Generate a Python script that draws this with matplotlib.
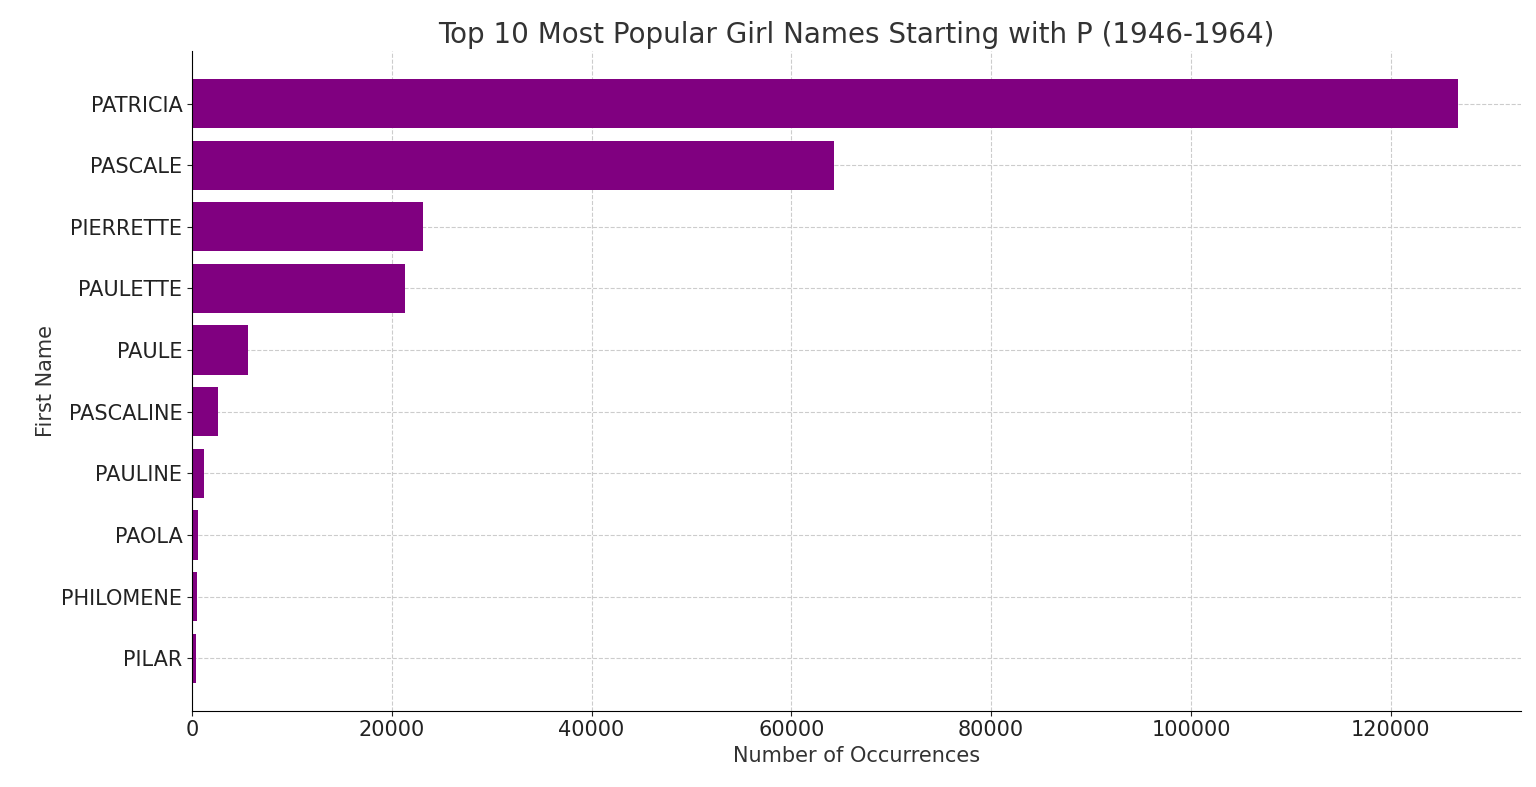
import matplotlib.pyplot as plt

names = ['PATRICIA', 'PASCALE', 'PIERRETTE', 'PAULETTE', 'PAULE',
         'PASCALINE', 'PAULINE', 'PAOLA', 'PHILOMENE', 'PILAR']
counts = [126700, 64300, 23100, 21300, 5600, 2600, 1200, 650, 480, 400]

fig, ax = plt.subplots(figsize=(15.36, 7.87), dpi=100)
ax.barh(names[::-1], counts[::-1], color='purple', zorder=2)
ax.set_title('Top 10 Most Popular Girl Names Starting with P (1946-1964)',
             fontsize=20, color='#333333')
ax.set_xlabel('Number of Occurrences', fontsize=15, color='#333333')
ax.set_ylabel('First Name', fontsize=15, color='#333333')
ax.tick_params(labelsize=15, colors='#222222')
ax.grid(True, linestyle='--', color='#cccccc', zorder=0)
ax.spines['top'].set_visible(False)
ax.spines['right'].set_visible(False)
ax.set_xlim(0, 133000)
ax.set_ylim(-0.85, 9.85)
plt.subplots_adjust(left=0.125, right=0.99, top=0.935, bottom=0.097)
fig.savefig('out.png')
